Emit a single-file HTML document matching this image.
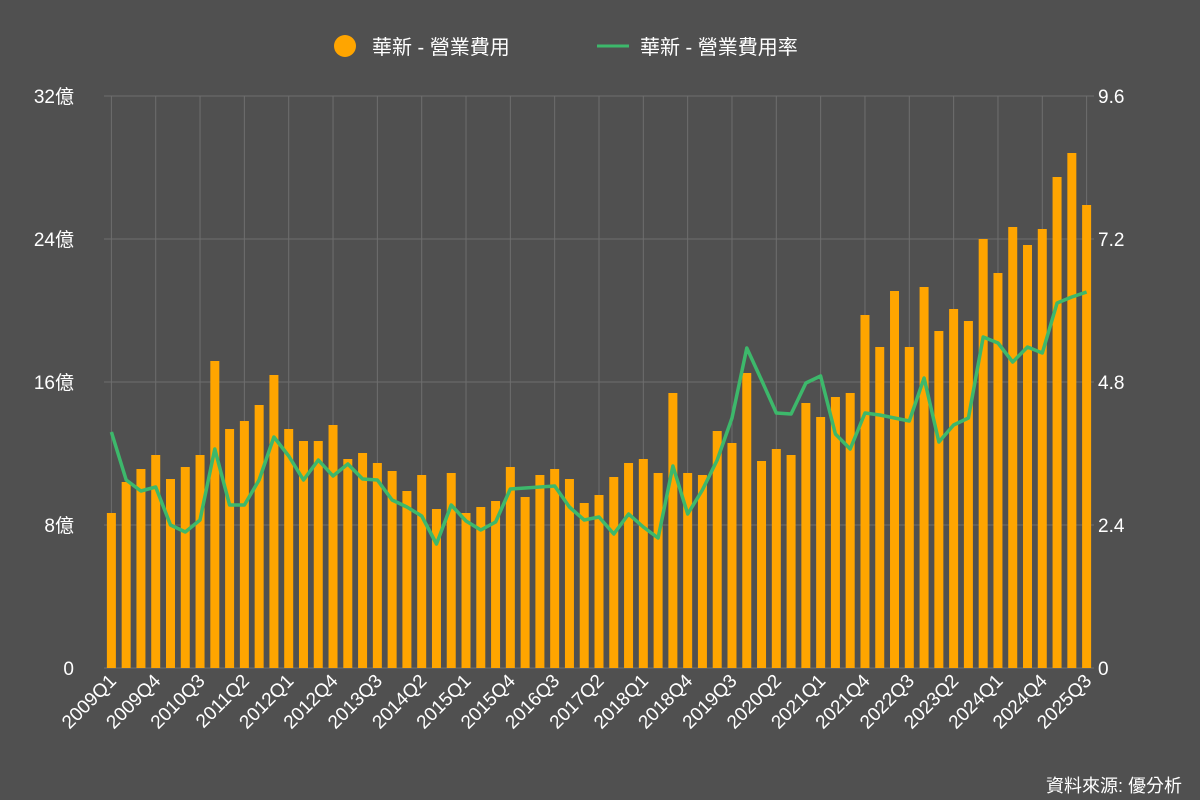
<!DOCTYPE html>
<html><head><meta charset="utf-8"><style>
html,body{margin:0;padding:0;background:#505050;}
svg{display:block;font-family:"Liberation Sans","Noto Sans CJK TC",sans-serif;}
</style></head><body>
<svg id="c" width="1200" height="800" viewBox="0 0 1200 800">
<rect width="1200" height="800" fill="#505050"/>
<g id="grid" stroke="#6e6e6e" stroke-width="1"></g>
<g id="bars" fill="#FFA500"></g>
<polyline id="line" fill="none" stroke="#3DB86B" stroke-width="3.5" stroke-linejoin="round"/>
<g fill="#ffffff" font-size="19" text-anchor="end">
<text x="74" y="103">32億</text><text x="74" y="246">24億</text><text x="74" y="389">16億</text><text x="74" y="532">8億</text><text x="74" y="675">0</text>
</g>
<g fill="#ffffff" font-size="19" text-anchor="start">
<text x="1098" y="103">9.6</text><text x="1098" y="246">7.2</text><text x="1098" y="389">4.8</text><text x="1098" y="532">2.4</text><text x="1098" y="675">0</text>
</g>
<g id="xl" fill="#ffffff" font-size="19" text-anchor="end">
<text>2009Q1</text><text>2009Q4</text><text>2010Q3</text><text>2011Q2</text><text>2012Q1</text><text>2012Q4</text><text>2013Q3</text><text>2014Q2</text><text>2015Q1</text><text>2015Q4</text><text>2016Q3</text><text>2017Q2</text><text>2018Q1</text><text>2018Q4</text><text>2019Q3</text><text>2020Q2</text><text>2021Q1</text><text>2021Q4</text><text>2022Q3</text><text>2023Q2</text><text>2024Q1</text><text>2024Q4</text><text>2025Q3</text>
</g>
<circle cx="345" cy="46" r="11" fill="#FFA500"/>
<text x="372" y="54" fill="#ffffff" font-size="20">華新 - 營業費用</text>
<line x1="597" y1="46" x2="629" y2="46" stroke="#3DB86B" stroke-width="3"/>
<text x="640" y="54" fill="#ffffff" font-size="20">華新 - 營業費用率</text>
<text x="1182" y="792" fill="#ffffff" font-size="18" text-anchor="end">資料來源: 優分析</text>
</svg>
<script>
var tops=[513,482,469,455,479,467,455,361,429,421,405,375,429,441,441,425,459,453,463,471,491,475,509,473,513,507,501,467,497,475,469,479,503,495,477,463,459,473,393,473,475,431,443,373,461,449,455,403,417,397,393,315,347,291,347,287,331,309,321,239,273,227,245,229,177,153,205];
var ly=[432,480,491,487,525,532,520,449,505,505,480,437,456,480,460,476,464,479,480,500,507,516,544,505,521,530,522,489,488,487,486,507,520,517,534,514,527,538,466,514,490,460,418,348,380,413,414,383,376,434,449,413,415,418,421,378,442,425,418,337,343,362,347,353,303,297,292];
var ns="http://www.w3.org/2000/svg",step=990/67,x0=104;
function cx(i){return x0+step*(i+0.5);}
var g=document.getElementById('grid');
[96,239,382,525,668].forEach(function(y){var l=document.createElementNS(ns,'line');l.setAttribute('x1',104);l.setAttribute('x2',1094);l.setAttribute('y1',y);l.setAttribute('y2',y);g.appendChild(l);});
for(var i=0;i<67;i+=3){var l=document.createElementNS(ns,'line');l.setAttribute('x1',cx(i));l.setAttribute('x2',cx(i));l.setAttribute('y1',96);l.setAttribute('y2',668);g.appendChild(l);}
var b=document.getElementById('bars'),pts=[];
for(var i=0;i<67;i++){var r=document.createElementNS(ns,'rect');r.setAttribute('x',cx(i)-4.5);r.setAttribute('width',9);r.setAttribute('y',tops[i]);r.setAttribute('height',668-tops[i]);b.appendChild(r);pts.push(cx(i).toFixed(1)+','+ly[i]);}
document.getElementById('line').setAttribute('points',pts.join(' '));
var t=document.querySelectorAll('#xl text');
for(var k=0;k<t.length;k++){var x=cx(k*3)+6,y=682;t[k].setAttribute('x',x);t[k].setAttribute('y',y);t[k].setAttribute('transform','rotate(-45 '+x+' '+y+')');}
</script>
</body></html>
